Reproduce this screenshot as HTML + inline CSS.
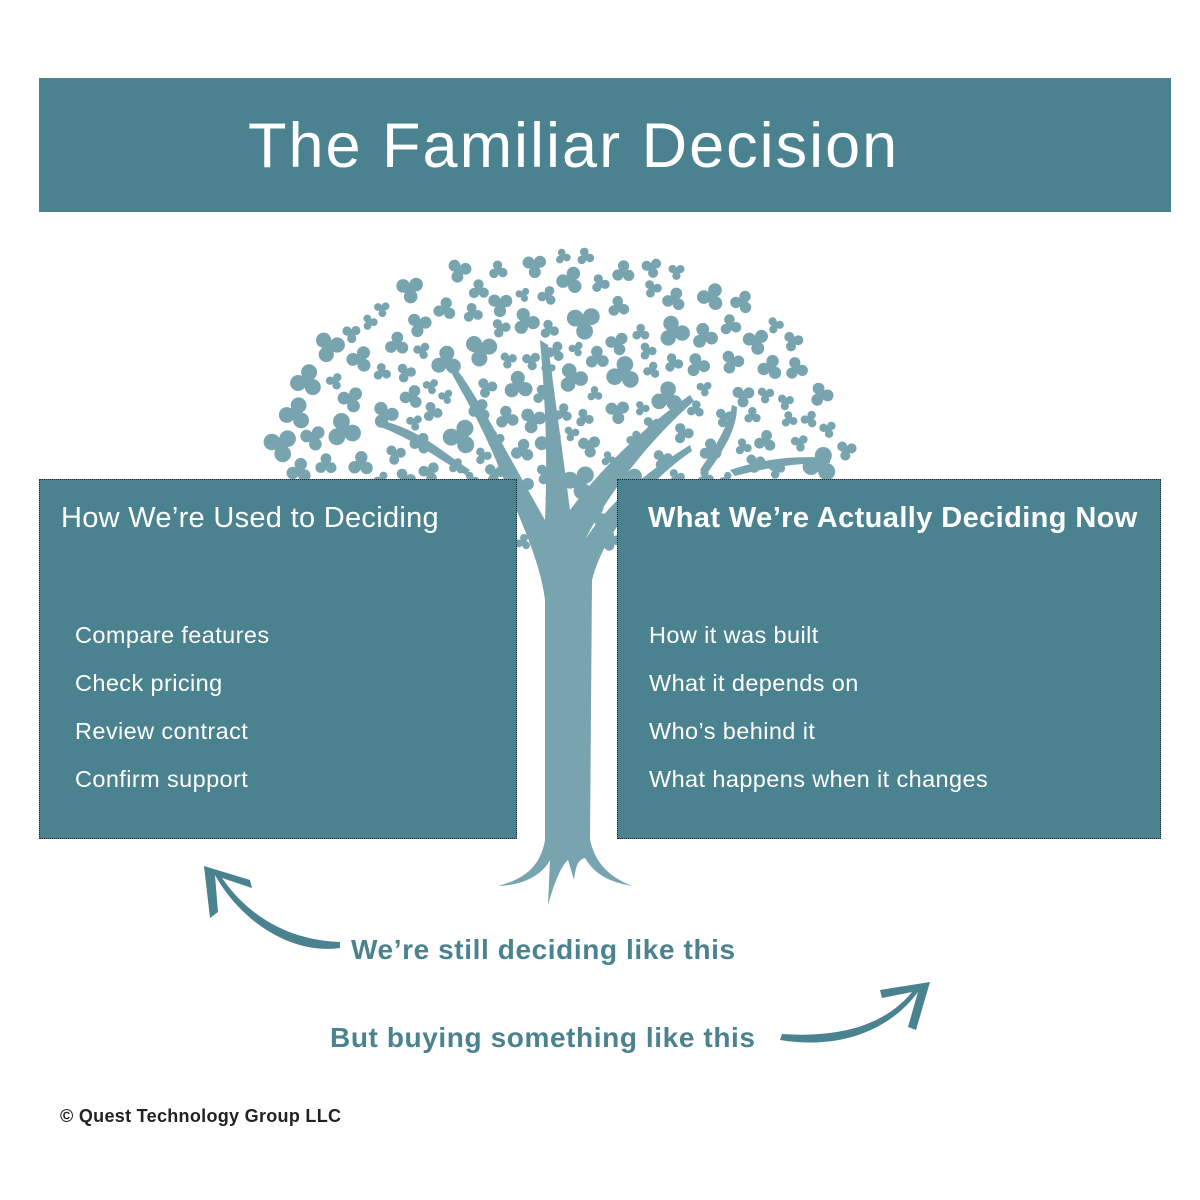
<!DOCTYPE html>
<html><head><meta charset="utf-8"><style>
body{margin:0;width:1200px;height:1200px;background:#fff;position:relative;overflow:hidden;font-family:"Liberation Sans",sans-serif}
.banner{position:absolute;left:39px;top:78px;width:1132px;height:134px;background:#4a828f}
.banner span{position:absolute;left:209px;top:32px;color:#fff;font-size:63px;letter-spacing:2px}
.box{position:absolute;top:479px;height:360px;background:#4a828f;border:1.5px dotted #1d2e33;box-sizing:border-box;color:#fff}
.box h2{position:absolute;top:22px;margin:0;font-size:29px;font-weight:normal;white-space:nowrap}
.box ul{list-style:none;margin:0;padding:0;position:absolute;top:142px;font-size:23.5px;letter-spacing:0.4px}
.box li{height:48px}
.lbl{position:absolute;color:#4a828f;font-weight:bold;font-size:28px;letter-spacing:0.6px}
</style></head><body>
<div class="banner"><span>The Familiar Decision</span></div>
<svg id="tree" width="1200" height="1200" style="position:absolute;left:0;top:0">
<g fill="#78a4b0" id="leaves"></g>
<g fill="#78a4b0">
<path d="M545,840 L545,600 C540,560 520,520 500,470 C480,420 460,390 450,370 L456,368 C480,400 505,450 545,520 C548,450 545,400 540,340 L548,345 C558,420 565,470 570,510 C600,470 640,430 690,395 L694,401 C650,440 610,490 585,540 C610,500 650,470 690,445 L692,451 C650,480 605,530 592,580 L590,840 Z"/>
<path d="M545,840 C540,870 520,880 498,886 C530,885 545,870 550,860 L548,905 C555,880 562,865 568,860 L574,880 C576,865 578,860 585,858 C595,875 610,882 632,886 C605,875 595,860 590,840 Z"/>
<path d="M380,420 C420,430 440,450 470,470 L466,475 C440,460 415,440 378,426 Z"/>
<path d="M700,470 C720,440 730,420 732,405 L737,407 C737,425 728,445 706,475 Z"/>
<path d="M730,470 C760,460 790,455 830,458 L830,463 C795,463 765,468 735,476 Z"/>
</g>
</svg>
<div class="box" style="left:39px;width:478px"><h2 style="left:21px;letter-spacing:0.3px">How We’re Used to Deciding</h2>
<ul style="left:35px"><li>Compare features</li><li>Check pricing</li><li>Review contract</li><li>Confirm support</li></ul></div>
<div class="box" style="left:617px;width:544px"><h2 style="left:30px;font-weight:bold;letter-spacing:0.4px">What We’re Actually Deciding Now</h2>
<ul style="left:31px"><li>How it was built</li><li>What it depends on</li><li>Who’s behind it</li><li>What happens when it changes</li></ul></div>
<svg width="1200" height="1200" style="position:absolute;left:0;top:0" fill="#4a828f">
<path d="M340,948 C290,955 240,920 215,875 L218,912 L210,918 L204,866 L250,880 L252,888 L222,878 C250,918 290,940 340,942 Z"/>
<path d="M780,1040 C840,1050 890,1030 918,992 L908,1027 L916,1030 L930,982 L880,990 L882,998 L912,992 C885,1025 840,1038 782,1034 Z"/>
</svg>
<div class="lbl" style="left:351px;top:934px">We’re still deciding like this</div>
<div class="lbl" style="left:330px;top:1022px">But buying something like this</div>
<div style="position:absolute;left:60px;top:1106px;font-size:18px;font-weight:bold;color:#222;letter-spacing:0.3px">© Quest Technology Group LLC</div>
<script>
var g=document.getElementById('leaves'),s=11,out='',pts=[];
function r(){s=(s*16807)%2147483647;return s/2147483647;}
for(var i=0;i<8000&&pts.length<320;i++){
 var x=280+r()*570,y=245+r()*300;
 var dx=(x-565)/290,dy=(y-480)/230;
 if(dx*dx+dy*dy>1||y>560)continue;
 if(y>480&&(x<515||x>615))continue;
 if(Math.abs(x-560)<22&&y>500)continue;
 var sz=4+r()*5.5,ok=true;
 for(var j=0;j<pts.length;j++){var p=pts[j];var d=Math.hypot(p[0]-x,p[1]-y);if(d<(p[2]+sz)*1.7+3){ok=false;break;}}
 if(!ok)continue;
 pts.push([x,y,sz]);
 var a=r()*6.28;
 for(var k=0;k<3;k++){var aa=a+k*2.094;
  out+='<circle cx="'+(x+Math.cos(aa)*sz).toFixed(1)+'" cy="'+(y+Math.sin(aa)*sz).toFixed(1)+'" r="'+(sz*0.9).toFixed(1)+'"/>';}
 out+='<circle cx="'+x.toFixed(1)+'" cy="'+y.toFixed(1)+'" r="'+(sz*0.8).toFixed(1)+'"/>';
}
g.innerHTML=out;
</script>
</body></html>
